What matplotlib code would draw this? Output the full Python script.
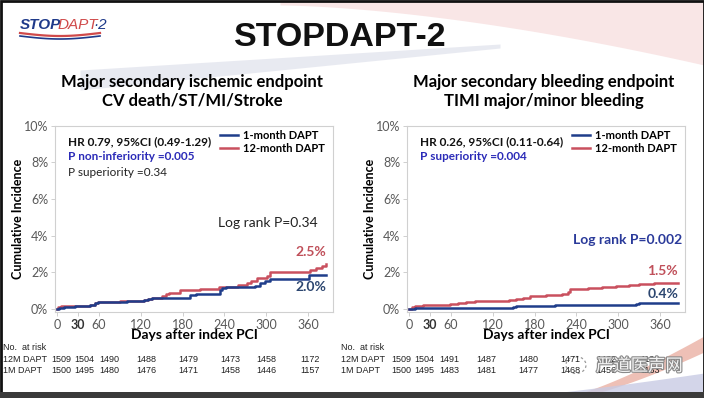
import numpy as np
import matplotlib
matplotlib.use("Agg")
import matplotlib.pyplot as plt
import matplotlib.patheffects as pe
from matplotlib.patches import Rectangle, Ellipse

# ---------------- data ----------------
xticks = [0, 30, 60, 120, 180, 240, 300, 360]
yticks = [0, 2, 4, 6, 8, 10]

# Left panel: ischemic endpoint (cumulative incidence %, step post)
isch_1m_days = [0, 3, 10, 25, 47, 55, 59, 62, 100, 125, 130, 136, 191, 200, 234, 236, 243, 284, 291, 298, 306, 361, 386]
isch_1m_vals = [0, 0.05, 0.10, 0.15, 0.22, 0.30, 0.36, 0.40, 0.42, 0.48, 0.53, 0.62, 0.76, 0.82, 1.04, 1.13, 1.18, 1.27, 1.40, 1.53, 1.64, 1.84, 1.84]
isch_12m_days = [0, 2, 5, 25, 47, 55, 59, 62, 90, 125, 130, 136, 150, 157, 160, 177, 205, 232, 240, 260, 272, 279, 287, 301, 306, 363, 372, 380, 386]
isch_12m_vals = [0, 0.10, 0.15, 0.18, 0.22, 0.30, 0.36, 0.40, 0.43, 0.48, 0.53, 0.62, 0.72, 0.82, 0.89, 1.05, 1.10, 1.18, 1.22, 1.30, 1.40, 1.53, 1.67, 1.82, 2.02, 2.13, 2.22, 2.32, 2.45]

# Right panel: bleeding endpoint
bleed_1m_days = [0, 8, 145, 149, 153, 206, 210, 325, 330, 386]
bleed_1m_vals = [0, 0.04, 0.05, 0.12, 0.15, 0.18, 0.22, 0.26, 0.30, 0.30]
bleed_12m_days = [0, 4, 9, 20, 58, 70, 82, 94, 144, 154, 163, 173, 197, 220, 228, 231, 257, 277, 297, 315, 330, 351, 386]
bleed_12m_vals = [0, 0.10, 0.15, 0.20, 0.25, 0.30, 0.36, 0.42, 0.47, 0.56, 0.62, 0.68, 0.75, 0.82, 0.95, 1.07, 1.12, 1.18, 1.24, 1.30, 1.35, 1.42, 1.42]

# Numbers at risk
risk_days = [0, 30, 60, 120, 180, 240, 300, 360]
isch_risk_12m = [1509, 1504, 1490, 1488, 1479, 1473, 1458, 1172]
isch_risk_1m = [1500, 1495, 1480, 1476, 1471, 1458, 1446, 1157]
bleed_risk_12m = [1509, 1504, 1491, 1487, 1480, 1471, 1462, 1190]
bleed_risk_1m = [1500, 1495, 1483, 1481, 1477, 1468, 1456, 1163]

# layout: pixel centres of the at-risk columns (left table)
risk_col_px = [61, 84.5, 109.5, 146.5, 188, 230, 266, 310]

BLUE = "#1f3d8a"
RED = "#c9505e"
PBLUE = "#2b2bb8"
LBL_BLUE = "#2c4670"
LBL_RED = "#c0505a"
TICKC = "#595959"
SANS = ["Lato", "DejaVu Sans"]

W, H = 704, 398
fig = plt.figure(figsize=(W / 100, H / 100), dpi=100)
fig.patch.set_facecolor("white")

# ---------------- background decoration ----------------
bg = fig.add_axes([0, 0, 1, 1])
bg.set_xlim(0, W)
bg.set_ylim(H, 0)
bg.axis("off")
bg.set_zorder(-5)

t = np.linspace(0, 1, 60)
xs = 280 + 424 * t
lower = 5 + 60 * t ** 1.6
bg.fill_between(xs, 0, lower, color="#f7dede", alpha=0.75, lw=0)
xs2 = 80 + 420 * t
mid = 80 - 34 * t
thick = 16 * (1 - t) + 4
bg.fill_between(xs2, mid - thick / 2, mid + thick / 2, color="#e3e5ee", alpha=0.8, lw=0)
xs3 = 560 + 144 * t
red_top = 398 - 62 * t ** 1.3
bg.fill_between(xs3, red_top, red_top + 14 * t + 2, color="#eab1a4", alpha=0.8, lw=0)
xs4 = 500 + 204 * t
blue_top = 398 - 25 * t ** 1.2
bg.fill_between(xs4, blue_top, 398, color="#c8cbe4", alpha=0.8, lw=0)

bg.add_patch(Rectangle((0.5, 0.5), W - 1, H - 6, fill=False, ec="#111111", lw=2))
bg.add_patch(Rectangle((0, H - 6), W, 6, color="#3a3a3a", lw=0))

# ---------------- logo ----------------
fig.text(20 / W, 1 - 25 / H, "STOP", fontsize=11, fontweight="bold", style="italic",
         color="#1f3a8a", va="center", ha="left", family=["Liberation Sans"])
fig.text(58 / W, 1 - 25 / H, "DAPT", fontsize=11, style="italic",
         color="#d04a4a", va="center", ha="left", family=["Liberation Sans"])
fig.text(93 / W, 1 - 25 / H, "\u00b72", fontsize=11, style="italic",
         color="#1f3a8a", va="center", ha="left", family=["Liberation Sans"])
lx = np.linspace(20, 100, 40)
bg.plot(lx, 33 + 3 * np.sin((lx - 20) / 80 * np.pi), color="#d04a4a", lw=1.6)
bg.plot(lx, 36 + 3 * np.sin((lx - 20) / 80 * np.pi), color="#1f3a8a", lw=1.2)

# ---------------- main title ----------------
fig.text(340 / W, 1 - 37 / H, "STOPDAPT-2", fontsize=24.5, fontweight="bold",
         ha="center", va="center", family=["Liberation Sans"], color="#111111")

# ---------------- panels ----------------
def make_panel(left_px, sub1, sub2, d1, v1, d12, v12):
    ax = fig.add_axes([left_px / W, 1 - 311.7 / H, 278 / W, 186 / H])
    ax.step(d1, v1, where="post", color=BLUE, lw=1.8, label="1-month DAPT", zorder=3)
    ax.step(d12, v12, where="post", color=RED, lw=1.8, label="12-month DAPT", zorder=2)
    ax.set_xlim(-3, 396)
    ax.set_ylim(-0.15, 10)
    ax.set_xticks(xticks)
    ax.set_yticks(yticks)
    ax.set_yticklabels([f"{v}%" for v in yticks])
    for s in ax.spines.values():
        s.set_color("#d0d0d0")
        s.set_linewidth(0.8)
    ax.tick_params(axis="both", colors="#c8c8c8", labelcolor=TICKC, labelsize=9, length=3, width=0.6, pad=2)
    for lbl in ax.get_xticklabels() + ax.get_yticklabels():
        lbl.set_family(SANS)
    for lbl in ax.get_xticklabels():
        if lbl.get_text() == "30":
            lbl.set_fontweight("bold")
            lbl.set_color("#333333")
    ax.set_ylabel("Cumulative Incidence", fontsize=9, fontweight="bold", family=SANS)
    ax.yaxis.set_label_coords(-0.11, 0.5)
    ax.set_xlabel("Days after index PCI", fontsize=10, fontweight="bold", family=SANS)
    ax.xaxis.set_label_coords(0.5, -0.095)
    ax.legend(loc="upper right", bbox_to_anchor=(1.0, 1.02), frameon=False,
              prop={"family": SANS, "size": 8, "weight": "bold"},
              handlelength=1.6, handletextpad=0.5, labelspacing=0.2, borderaxespad=0.3)
    cx = (left_px + 137) / W
    fig.text(cx, 1 - 82 / H, sub1, ha="center", va="center", fontsize=12, fontweight="bold", family=SANS)
    fig.text(cx, 1 - 101 / H, sub2, ha="center", va="center", fontsize=12, fontweight="bold", family=SANS)
    return ax

def px_text(xpx, ypx, s, **kw):
    fig.text(xpx / W, 1 - ypx / H, s, **kw)

axL = make_panel(55, "Major secondary ischemic endpoint", "CV death/ST/MI/Stroke",
                 isch_1m_days, isch_1m_vals, isch_12m_days, isch_12m_vals)
axR = make_panel(407, "Major secondary bleeding endpoint", "TIMI major/minor bleeding",
                 bleed_1m_days, bleed_1m_vals, bleed_12m_days, bleed_12m_vals)

kw = dict(family=SANS, va="center", ha="left", fontsize=8.5)
px_text(68, 142, "HR 0.79, 95%CI (0.49-1.29)", fontweight="bold", color="#111111", **kw)
px_text(68, 157, "P non-inferiority =0.005", fontweight="bold", color=PBLUE, **kw)
px_text(68, 172, "P superiority =0.34", color="#222222", **kw)
px_text(218, 223, "Log rank P=0.34", color="#222222", family=SANS, va="center", ha="left", fontsize=10)
axL.text(386, 2.45 + 0.35, "2.5%", color=LBL_RED, fontweight="bold", fontsize=10, ha="right", va="bottom", family=SANS)
axL.text(386, 1.84 - 0.3, "2.0%", color=LBL_BLUE, fontweight="bold", fontsize=10, ha="right", va="top", family=SANS)

px_text(420, 142, "HR 0.26, 95%CI (0.11-0.64)", fontweight="bold", color="#111111", **kw)
px_text(420, 157, "P superiority =0.004", fontweight="bold", color=PBLUE, **kw)
px_text(573, 240, "Log rank P=0.002", fontweight="bold", color="#2a3a9a", family=SANS, va="center", ha="left", fontsize=10)
axR.text(386, 1.42 + 0.3, "1.5%", color=LBL_RED, fontweight="bold", fontsize=10, ha="right", va="bottom", family=SANS)
axR.text(386, 0.30 + 0.2, "0.4%", color=LBL_BLUE, fontweight="bold", fontsize=10, ha="right", va="bottom", family=SANS)

# ---------------- risk tables ----------------
TF = ["Liberation Sans"]
tkw = dict(family=TF, fontsize=6.5, color="#222222", va="center")
row_y = [1 - 347 / H, 1 - 359 / H, 1 - 370.5 / H]

def risk_table(xlabel_px, r12, r1, dx):
    fig.text(xlabel_px / W, row_y[0], "No.  at risk", ha="left", **tkw)
    fig.text(xlabel_px / W, row_y[1], "12M DAPT", ha="left", **tkw)
    fig.text(xlabel_px / W, row_y[2], "1M DAPT", ha="left", **tkw)
    for cpx, a, b in zip(risk_col_px, r12, r1):
        fig.text((cpx + dx) / W, row_y[1], str(a), ha="center", **tkw)
        fig.text((cpx + dx) / W, row_y[2], str(b), ha="center", **tkw)

risk_table(3, isch_risk_12m, isch_risk_1m, 0)
risk_table(341, bleed_risk_12m, bleed_risk_1m, 340)

# ---------------- watermark ----------------
wm = fig.text(596 / W, 1 - 366 / H, "严道医声网", fontsize=12.5, color="#f4f4f4",
              family=["Noto Sans CJK SC", "DejaVu Sans"], ha="left", va="center", zorder=10)
wm.set_path_effects([pe.withStroke(linewidth=1.6, foreground="#8a8a8a")])
bg2 = fig.add_axes([0, 0, 1, 1], facecolor="none")
bg2.set_xlim(0, W)
bg2.set_ylim(H, 0)
bg2.axis("off")
bg2.add_patch(Ellipse((576, 365), 20, 17, fill=False, ec="#9a9a9a", lw=0.9, ls=(0, (2, 2))))

fig.savefig("out.png", dpi=100)
